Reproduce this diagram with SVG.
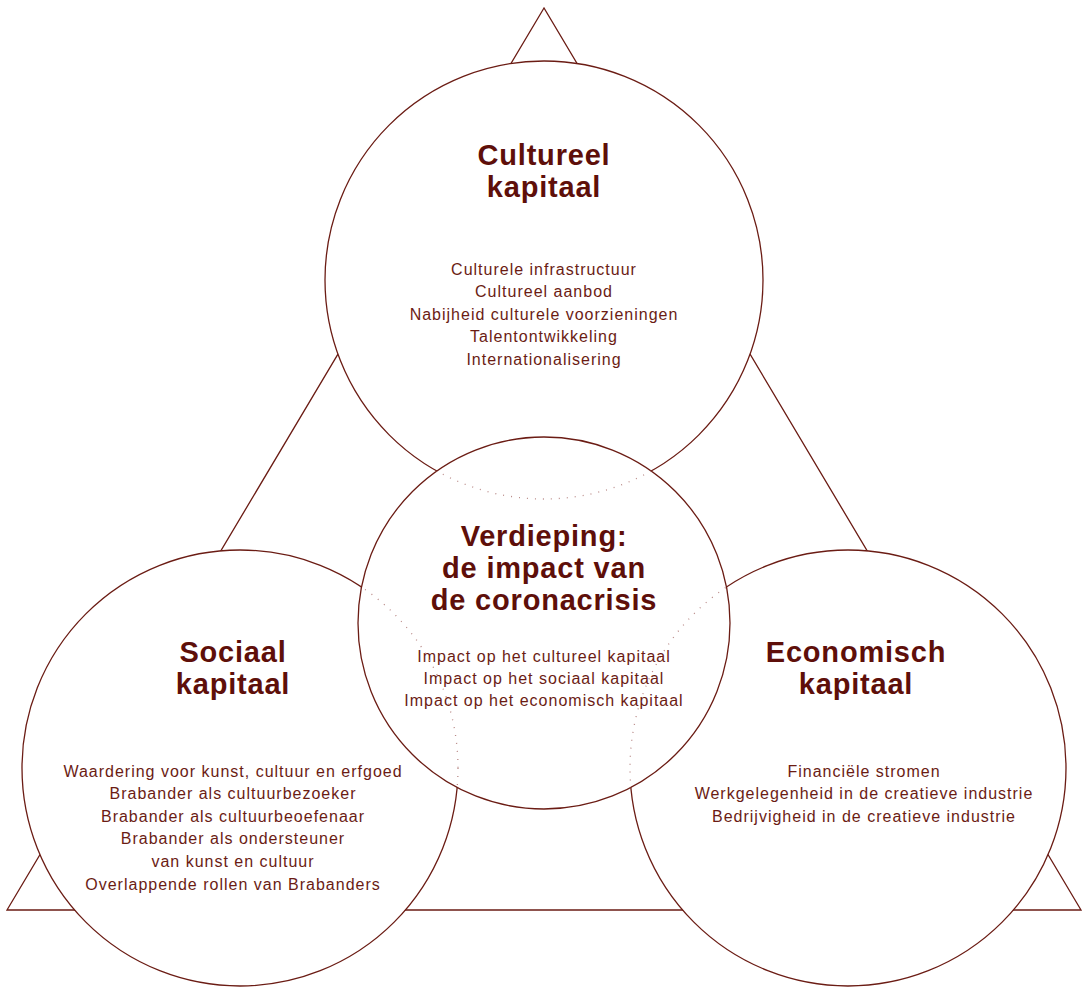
<svg xmlns="http://www.w3.org/2000/svg" width="1086" height="987" viewBox="0 0 1086 987">
<style>
.ln{fill:none;stroke:#6b1c14;stroke-width:1.3}
.circ{fill:#fff;stroke:#6b1c14;stroke-width:1.3}
.dot{fill:none;stroke:#b98a88;stroke-width:1.3;stroke-dasharray:1 7}
.t{font-family:"Liberation Sans",Arial,sans-serif;font-size:29px;font-weight:bold;fill:#5e0f0a;text-anchor:middle;letter-spacing:0.8px}
.b{font-family:"Liberation Sans",Arial,sans-serif;font-size:16px;fill:#6b1c14;text-anchor:middle;letter-spacing:1px}
</style>
<defs>
<clipPath id="cc"><circle cx="544" cy="623" r="186"/></clipPath>
</defs>
<g id="triangle"><polygon class="ln" points="544,8 7,910 1081,910"/></g>
<g id="cultureel">
<circle class="circ" cx="544" cy="280" r="219"/>
<text class="t" x="544" y="165">Cultureel</text>
<text class="t" x="544" y="197">kapitaal</text>
<text class="b" x="544" y="275">Culturele infrastructuur</text>
<text class="b" x="544" y="297">Cultureel aanbod</text>
<text class="b" x="544" y="320">Nabijheid culturele voorzieningen</text>
<text class="b" x="544" y="342">Talentontwikkeling</text>
<text class="b" x="544" y="365">Internationalisering</text>
</g>
<g id="sociaal">
<circle class="circ" cx="240" cy="768" r="218"/>
<text class="t" x="233" y="662">Sociaal</text>
<text class="t" x="233" y="694">kapitaal</text>
<text class="b" x="233" y="777">Waardering voor kunst, cultuur en erfgoed</text>
<text class="b" x="233" y="799">Brabander als cultuurbezoeker</text>
<text class="b" x="233" y="822">Brabander als cultuurbeoefenaar</text>
<text class="b" x="233" y="844">Brabander als ondersteuner</text>
<text class="b" x="233" y="867">van kunst en cultuur</text>
<text class="b" x="233" y="890">Overlappende rollen van Brabanders</text>
</g>
<g id="economisch">
<circle class="circ" cx="848" cy="768" r="218"/>
<text class="t" x="856" y="662">Economisch</text>
<text class="t" x="856" y="694">kapitaal</text>
<text class="b" x="864" y="777">Financiële stromen</text>
<text class="b" x="864" y="799">Werkgelegenheid in de creatieve industrie</text>
<text class="b" x="864" y="822">Bedrijvigheid in de creatieve industrie</text>
</g>
<g id="verdieping">
<circle class="circ" cx="544" cy="623" r="186"/>
<text class="t" x="544" y="546">Verdieping:</text>
<text class="t" x="544" y="578">de impact van</text>
<text class="t" x="544" y="610">de coronacrisis</text>
<text class="b" x="544" y="662">Impact op het cultureel kapitaal</text>
<text class="b" x="544" y="684">Impact op het sociaal kapitaal</text>
<text class="b" x="544" y="706">Impact op het economisch kapitaal</text>
</g>
<g id="connectors" clip-path="url(#cc)">
<circle class="dot" cx="544" cy="280" r="219"/>
<circle class="dot" cx="240" cy="768" r="218"/>
<circle class="dot" cx="848" cy="768" r="218"/>
</g>
</svg>
